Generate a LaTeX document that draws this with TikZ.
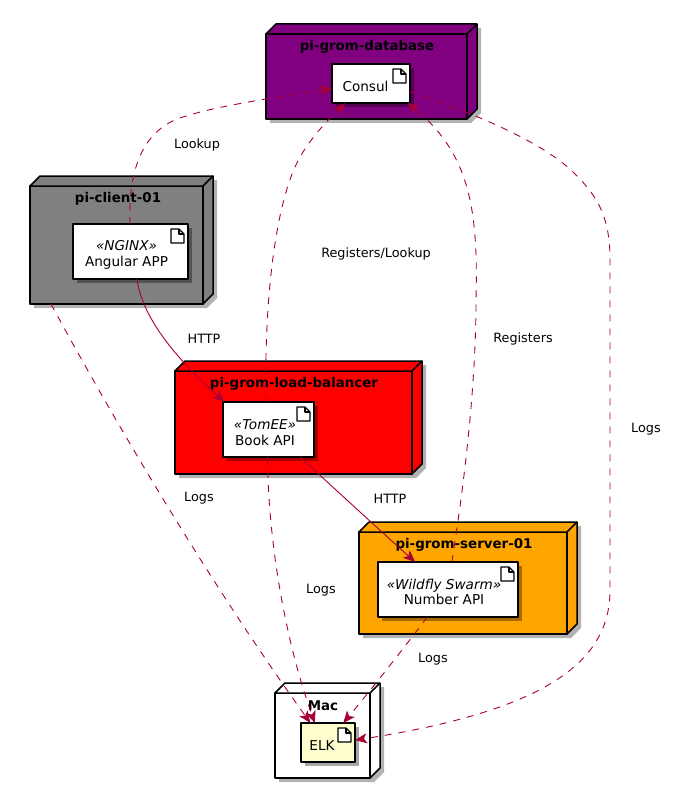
\documentclass[tikz,border=0pt]{standalone}
\usepackage{fontspec}
\setmainfont{DejaVu Sans}
\usetikzlibrary{arrows.meta,calc,shadows,backgrounds}
\definecolor{edgered}{HTML}{A80036}
\definecolor{elkyellow}{HTML}{FEFECE}
\definecolor{dbpurple}{HTML}{800080}
\definecolor{srvorange}{HTML}{FFA500}
\tikzset{
  devicebox/.style={draw,line width=1.5pt,inner sep=0pt,outer sep=0pt},
  devicename/.style={font=\fontsize{13.4}{15}\selectfont\bfseries,inner sep=0pt},
  artifactbox/.style={draw,line width=1.3pt,fill=white,inner sep=0pt,outer sep=0pt,
    drop shadow={shadow xshift=4pt,shadow yshift=-4pt,fill=black,opacity=0.35}},
  artifactname/.style={font=\fontsize{13.6}{15.5}\selectfont,align=center,inner sep=0pt},
  flow/.style={edgered,line width=0.9pt,-{Stealth[inset=3pt,length=12pt,width=10pt]}},
  dashflow/.style={flow,dash pattern=on 7pt off 7pt},
  flowname/.style={font=\fontsize{12.8}{14}\selectfont,inner sep=0pt}
}
% top and side faces of a device, with its shadow
\newcommand{\devicefaces}[2]{
  \begin{scope}[on background layer]
  \fill[black,opacity=0.3,transform canvas={shift={(4pt,-4pt)}}] (#1.north west) -- ++(10,-10) -- ($(#1.north east)+(10,-10)$) -- ($(#1.south east)+(10,-10)$) -- (#1.south east) -- (#1.south west) -- cycle;
  \end{scope}
  \draw[line width=1.5pt,line join=round,fill=#2] (#1.north west) -- ++(10,-10) -- ($(#1.north east)+(10,-10)$) -- ($(#1.south east)+(10,-10)$) -- (#1.south east) -- (#1.north east) -- cycle;
  \draw[line width=1.5pt] (#1.north east) -- ++(10,-10);
}
% little document sign in the corner of an artifact
\newcommand{\docicon}[1]{
  \draw[line width=1.1pt,line join=round,fill=white] ($(#1.north east)+(-17,5)$) -- ++(8,0) -- ++(5,5) -- ++(0,9) -- ++(-13,0) -- cycle;
  \draw[line width=1.1pt,line join=round] ($(#1.north east)+(-9,5)$) -- ++(0,5) -- ++(5,0);
}
\begin{document}
\begin{tikzpicture}[x=1pt,y=-1pt,>=Stealth,line join=round]
\useasboundingbox (0,0) rectangle (696,789);
% --- devices
\node[devicebox,fill=dbpurple,minimum width=201pt,minimum height=85pt] (database) at (366.5,76.5) {};
\devicefaces{database}{dbpurple}
\node[devicename] (databasename) at (367,47) {pi-grom-database};
\node[devicebox,fill=gray,minimum width=173pt,minimum height=118pt] (client) at (116.5,245) {};
\devicefaces{client}{gray}
\node[devicename] (clientname) at (118,199) {pi-client-01};
\node[devicebox,fill=red,minimum width=237pt,minimum height=103pt] (balancer) at (293.5,422.5) {};
\devicefaces{balancer}{red}
\node[devicename] (balancername) at (294,384) {pi-grom-load-balancer};
\node[devicebox,fill=srvorange,minimum width=208pt,minimum height=102pt] (server) at (463,583) {};
\devicefaces{server}{srvorange}
\node[devicename] (servername) at (464,545) {pi-grom-server-01};
\node[devicebox,fill=white,minimum width=95pt,minimum height=85pt] (mac) at (322.5,735.5) {};
\devicefaces{mac}{white}
\node[devicename] (macname) at (323,706) {Mac};
% --- artifacts
\node[artifactbox,minimum width=78pt,minimum height=39pt] (consul) at (371,83.5) {};
\docicon{consul}
\node[artifactname] (consulname) at (365.5,86.5) {Consul};
\node[artifactbox,minimum width=115pt,minimum height=55pt] (angular) at (130.5,251.5) {};
\docicon{angular}
\node[artifactname] (angularname) at (126.5,255) {\textit{«NGINX»}\\Angular APP};
\node[artifactbox,minimum width=91pt,minimum height=55pt] (book) at (268.5,429.5) {};
\docicon{book}
\node[artifactname] (bookname) at (265,432.5) {\textit{«TomEE»}\\Book API};
\node[artifactbox,minimum width=140pt,minimum height=55pt] (number) at (448,589.5) {};
\docicon{number}
\node[artifactname] (numbername) at (444,592) {\textit{«Wildfly Swarm»}\\Number API};
\node[artifactbox,fill=elkyellow,minimum width=54pt,minimum height=39pt] (elk) at (328,742.5) {};
\docicon{elk}
\node[artifactname] (elkname) at (322,745.5) {ELK};
% --- connectors
\draw[dashflow] (angular.91) .. controls (128,175) and (140,130) .. (183,117) .. controls (220,105) and (280,97) .. (consul.187);
\draw[dashflow] (book.95) .. controls (264,320) and (272,200) .. (303,152) .. controls (315,133) and (330,118) .. (consul.217);
\draw[dashflow] (number.82) .. controls (460,510) and (476,400) .. (476,300) .. controls (478,215) and (472,155) .. (consul.332);
\draw[dashflow] (consul.348) .. controls (470,112) and (540,140) .. (573,172) .. controls (600,198) and (610,220) .. (610,260) -- (610,590) .. controls (610,660) and (550,710) .. (elk.5);
\draw[dashflow] (client.222) .. controls (125,440) and (215,590) .. (elk.132);
\draw[dashflow] (book.268) .. controls (268,540) and (285,640) .. (elk.124);
\draw[dashflow] (number.233) .. controls (410,640) and (375,685) .. (elk.52);
\draw[flow] (angular.283) .. controls (143,320) and (178,360) .. (book.148);
\draw[flow] (book.319) .. controls (325,480) and (385,535) .. (number.140);
% --- connector labels
\node[flowname] (lookup) at (197,144.5) {Lookup};
\node[flowname] (reglookup) at (376,253.5) {Registers/Lookup};
\node[flowname] (httpa) at (204,338.5) {HTTP};
\node[flowname] (registers) at (523,338.5) {Registers};
\node[flowname] (logsa) at (646,429.5) {Logs};
\node[flowname] (logsb) at (199,498.5) {Logs};
\node[flowname] (httpb) at (390,498.5) {HTTP};
\node[flowname] (logsc) at (321,590.5) {Logs};
\node[flowname] (logsd) at (433,659.5) {Logs};
\end{tikzpicture}
\end{document}
